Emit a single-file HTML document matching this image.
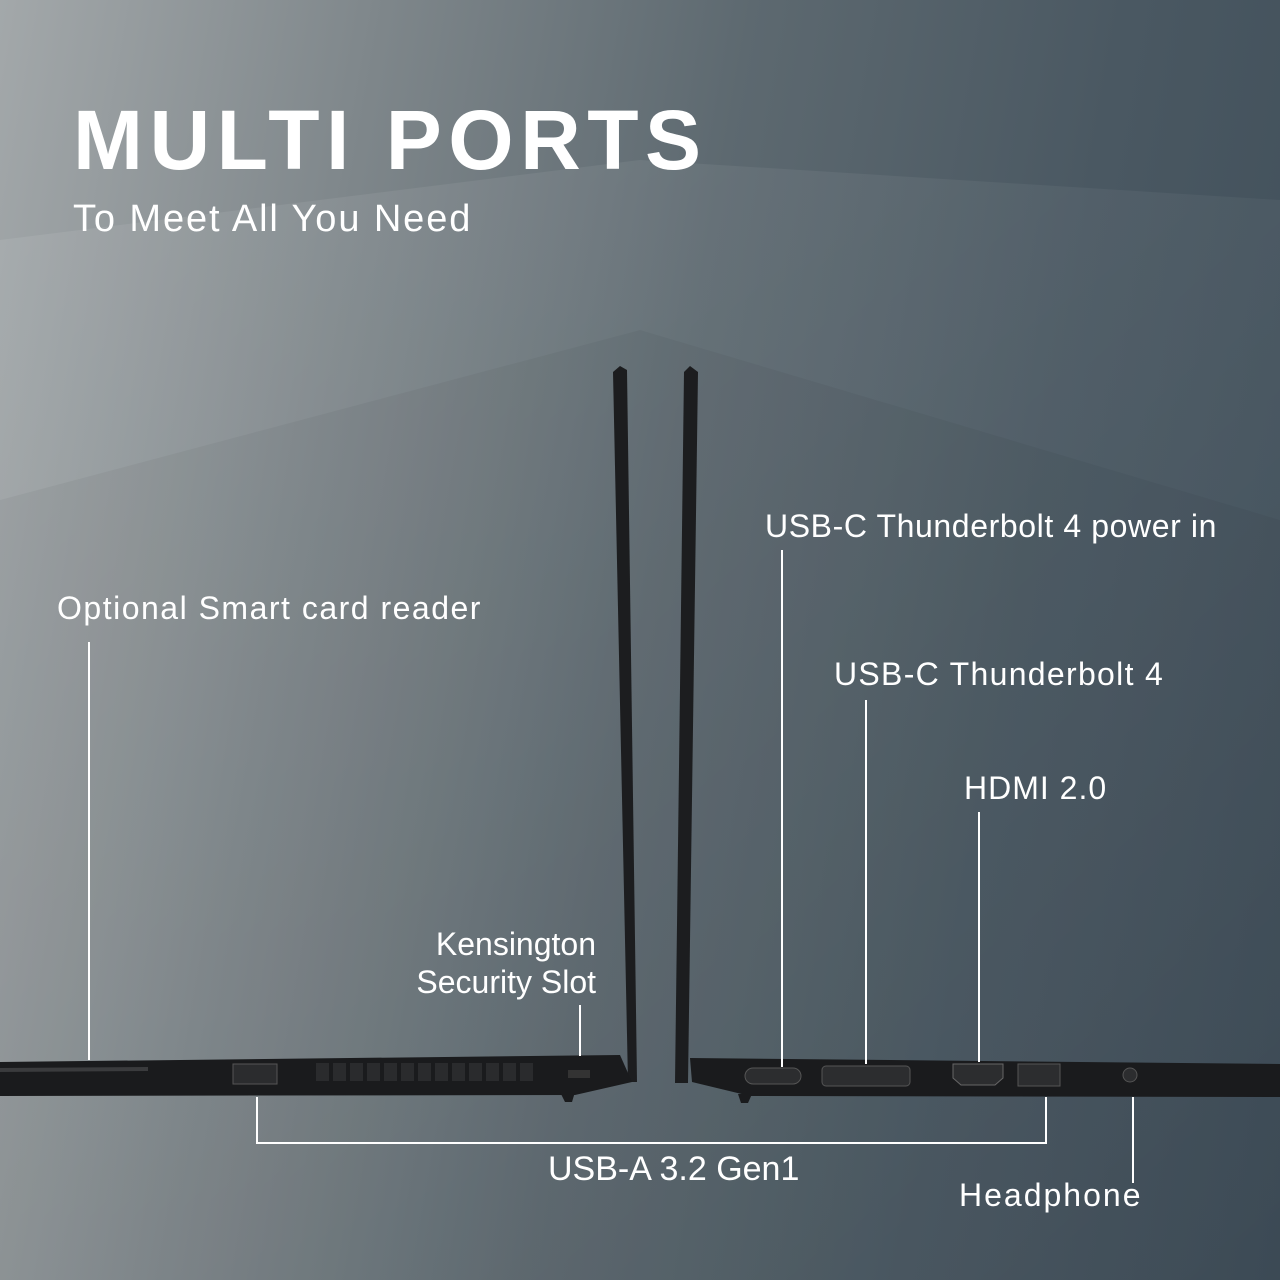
<!DOCTYPE html>
<html><head><meta charset="utf-8"><style>
html,body{margin:0;padding:0}
body{width:1280px;height:1280px;position:relative;overflow:hidden;font-family:"Liberation Sans",sans-serif;
background:linear-gradient(100deg,#a3a8aa 0%,#7f878b 25%,#5d6970 50%,#4a5862 75%,#3f4e59 100%);}
.t{position:absolute;color:#fff;white-space:nowrap}
</style></head><body>
<svg width="1280" height="1280" style="position:absolute;left:0;top:0">
<defs>
<linearGradient id="g" x1="0" y1="0" x2="1" y2="1">
<stop offset="0" stop-color="#fff" stop-opacity="0.08"/><stop offset="1" stop-color="#fff" stop-opacity="0"/>
</linearGradient>
</defs>
<polygon points="0,240 640,160 1280,200 1280,1280 0,1280" fill="url(#g)"/>
<polygon points="0,500 640,330 1280,520 1280,1280 0,1280" fill="#000" opacity="0.04"/>
<polygon points="613,372 620,366 627,370 637,1082 628,1082" fill="#1c1d1f"/>
<polygon points="684,372 690,366 698,372 688,1083 675,1083" fill="#1c1d1f"/>
<polygon points="0,1062 620,1055 632,1082 575,1095 0,1096" fill="#1a1b1d"/>
<polygon points="0,1068 148,1067 148,1071 0,1072" fill="#3a3b3d"/>
<polygon points="560,1092 575,1092 572,1102 565,1102" fill="#1a1b1d"/>
<rect x="233" y="1064" width="44" height="20" fill="#2b2c2e" stroke="#555" stroke-width="1"/>
<g fill="#2a2b2d">
<rect x="316" y="1063" width="13" height="18"/><rect x="333" y="1063" width="13" height="18"/><rect x="350" y="1063" width="13" height="18"/>
<rect x="367" y="1063" width="13" height="18"/><rect x="384" y="1063" width="13" height="18"/><rect x="401" y="1063" width="13" height="18"/>
<rect x="418" y="1063" width="13" height="18"/><rect x="435" y="1063" width="13" height="18"/><rect x="452" y="1063" width="13" height="18"/>
<rect x="469" y="1063" width="13" height="18"/><rect x="486" y="1063" width="13" height="18"/><rect x="503" y="1063" width="13" height="18"/>
<rect x="520" y="1063" width="13" height="18"/>
</g>
<rect x="568" y="1070" width="22" height="8" fill="#333"/>
<polygon points="690,1058 1280,1064 1280,1097 750,1096 692,1082" fill="#1a1b1d"/>
<polygon points="738,1094 752,1094 748,1103 741,1103" fill="#1a1b1d"/>
<rect x="745" y="1068" width="56" height="16" rx="8" fill="#2c2d2f" stroke="#555"/>
<rect x="822" y="1066" width="88" height="20" rx="4" fill="#2c2d2f" stroke="#555"/>
<polygon points="953,1064 1003,1064 1003,1078 995,1085 961,1085 953,1078" fill="#2c2d2f" stroke="#666"/>
<rect x="1018" y="1064" width="42" height="22" fill="#2c2d2f" stroke="#555"/>
<circle cx="1130" cy="1075" r="7" fill="#2c2d2f" stroke="#555"/>
<g stroke="#fff" stroke-width="2" fill="none">
<line x1="89" y1="642" x2="89" y2="1060"/>
<line x1="580" y1="1005" x2="580" y2="1056"/>
<polyline points="257,1097 257,1143 1046,1143 1046,1097"/>
<line x1="1133" y1="1097" x2="1133" y2="1183"/>
<line x1="782" y1="550" x2="782" y2="1067"/>
<line x1="866" y1="700" x2="866" y2="1064"/>
<line x1="979" y1="812" x2="979" y2="1062"/>
</g>
</svg>
<div class="t" style="left:73px;top:92px;font-size:84px;font-weight:bold;letter-spacing:6.5px">MULTI PORTS</div>
<div class="t" style="left:73px;top:198px;font-size:38px;letter-spacing:1.9px">To Meet All You Need</div>
<div class="t" style="left:57px;top:590px;font-size:32px;letter-spacing:1.5px">Optional Smart card reader</div>
<div class="t" style="left:403px;top:925px;font-size:32px;text-align:right;line-height:38px;width:193px">Kensington<br>Security Slot</div>
<div class="t" style="left:765px;top:508px;font-size:32px;letter-spacing:0.6px">USB-C Thunderbolt 4 power in</div>
<div class="t" style="left:834px;top:656px;font-size:32px;letter-spacing:1.3px">USB-C Thunderbolt 4</div>
<div class="t" style="left:964px;top:770px;font-size:32px;letter-spacing:1px">HDMI 2.0</div>
<div class="t" style="left:548px;top:1150px;font-size:34px">USB-A 3.2 Gen1</div>
<div class="t" style="left:959px;top:1177px;font-size:32px;letter-spacing:2px">Headphone</div>
</body></html>
